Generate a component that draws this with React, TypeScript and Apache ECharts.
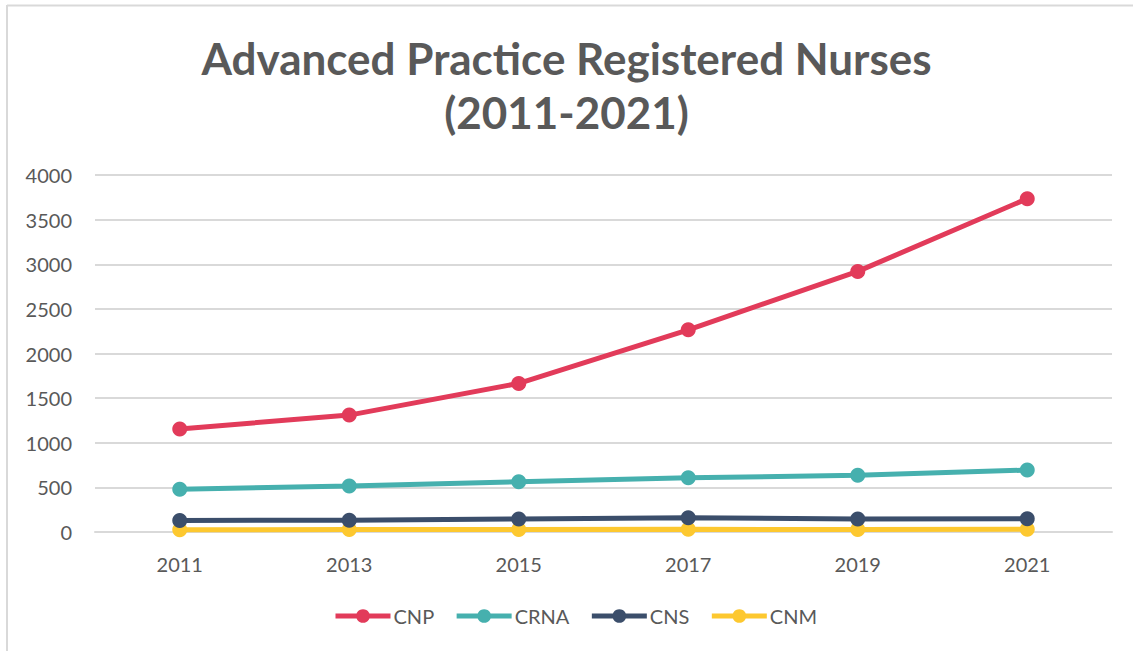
import React, { useEffect, useRef } from "react";
import * as echarts from "echarts";

const years = ["2011", "2013", "2015", "2017", "2019", "2021"];
const cnp = [1155, 1310, 1665, 2265, 2920, 3735];
const crna = [480, 515, 563, 607, 636, 694];
const cns = [130, 132, 146, 160, 146, 148];
const cnm = [25, 27, 28, 30, 28, 30];

const seriesNames = ["CNP", "CRNA", "CNS", "CNM"];
const seriesColors = ["#e23b5a", "#46b0ae", "#3b4e6b", "#fdc82f"];
const seriesData = [cnp, crna, cns, cnm];

const titleText = "Advanced Practice Registered Nurses\n(2011-2021)";

export default function App() {
  const ref = useRef<HTMLDivElement>(null);
  useEffect(() => {
    if (!ref.current) return;
    const chart = echarts.init(ref.current, null, { renderer: "svg" });
    const font = "Lato, 'Open Sans', sans-serif";
    chart.setOption({
      animation: false,
      backgroundColor: "#ffffff",
      textStyle: { fontFamily: font },
      title: {
        text: titleText,
        left: "center",
        top: 26,
        textStyle: {
          fontFamily: font,
          fontSize: 44,
          fontWeight: "bold",
          color: "#595959",
          lineHeight: 54,
        },
      },
      legend: {
        bottom: 20,
        left: 328,
        itemWidth: 55,
        itemHeight: 17,
        itemGap: 20,
        lineStyle: { width: 5 },
        textStyle: { fontFamily: font, fontSize: 20, color: "#595959", padding: [0, 0, 0, -2] },
        data: seriesNames,
      },
      grid: { left: 95, right: 21, top: 175, bottom: 119, containLabel: false },
      xAxis: {
        type: "category",
        data: years,
        boundaryGap: true,
        axisLine: { show: true, lineStyle: { color: "#d9d9d9", width: 2 } },
        axisTick: { show: false },
        axisLabel: { fontFamily: font, fontSize: 20, color: "#595959", margin: 22 },
      },
      yAxis: {
        type: "value",
        min: 0,
        max: 4000,
        interval: 500,
        axisLine: { show: false },
        axisTick: { show: false },
        axisLabel: {
          fontFamily: font,
          fontSize: 20,
          color: "#595959",
          margin: 23,
          formatter: (v: number) => String(v),
        },
        splitLine: { lineStyle: { color: "#d9d9d9", width: 2 } },
      },
      graphic: [
        {
          type: "line",
          shape: { x1: 7, y1: 5.5, x2: 1133, y2: 5.5 },
          style: { stroke: "#d9d9d9", lineWidth: 2 },
        },
        {
          type: "line",
          shape: { x1: 7, y1: 5, x2: 7, y2: 651 },
          style: { stroke: "#d9d9d9", lineWidth: 2 },
        },
      ],
      series: seriesNames.map((name, i) => ({
        name,
        type: "line",
        data: seriesData[i],
        symbol: "circle",
        symbolSize: 15,
        z: 10 - i,
        itemStyle: { color: seriesColors[i] },
        lineStyle: { color: seriesColors[i], width: 5 },
      })),
    });
    return () => chart.dispose();
  }, []);
  return (
    <div
      ref={ref}
      style={{ position: "absolute", left: 0, top: 0, width: 1133, height: 651 }}
    />
  );
}
